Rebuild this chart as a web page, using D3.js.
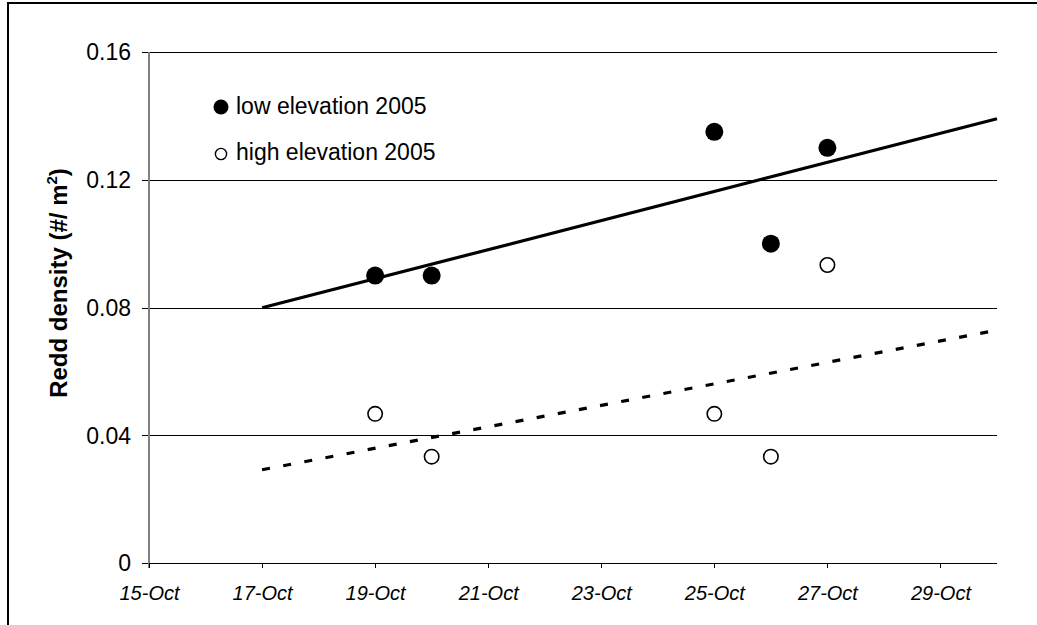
<!DOCTYPE html>
<html>
<head>
<meta charset="utf-8">
<script src="https://cdn.jsdelivr.net/npm/d3@7"></script>
<style>
  html, body { margin: 0; padding: 0; background: #fff; }
  svg { display: block; font-family: "Liberation Sans", Arial, sans-serif; }
</style>
</head>
<body>
<svg id="chart" width="1037" height="625"></svg>
<script>
// Survey dates and redd densities (#/m2)
const surveyDates = ["2005-10-19", "2005-10-20", "2005-10-25", "2005-10-26", "2005-10-27"];
const lowElevation = [0.09, 0.09, 0.135, 0.10, 0.13];
const highElevation = [0.0467, 0.0333, 0.0467, 0.0333, 0.0933];

// Linear trend lines (start / end)
const trendDates = ["2005-10-17", "2005-10-30"];
const lowTrend = [0.0799, 0.1391];
const highTrend = [0.0292, 0.0729];

// Axis ticks
const xTickDates = ["2005-10-15", "2005-10-17", "2005-10-19", "2005-10-21", "2005-10-23", "2005-10-25", "2005-10-27", "2005-10-29"];
const xTickLabels = ["15-Oct", "17-Oct", "19-Oct", "21-Oct", "23-Oct", "25-Oct", "27-Oct", "29-Oct"];
const yTicks = [0, 0.04, 0.08, 0.12, 0.16];
const yTickLabels = ["0", "0.04", "0.08", "0.12", "0.16"];

const seriesNames = ["low elevation 2005", "high elevation 2005"];

const parse = d3.utcParse("%Y-%m-%d");
const svg = d3.select("#chart");

const plotLeft = 149, plotRight = 997, plotTop = 52, plotBottom = 563;

const x = d3.scaleUtc()
  .domain([parse("2005-10-15"), parse("2005-10-30")])
  .range([plotLeft, plotRight]);
const y = d3.scaleLinear().domain([0, 0.16]).range([plotBottom, plotTop]);

// Outer frame
svg.append("rect")
  .attr("x", 8).attr("y", 3)
  .attr("width", 1100).attr("height", 700)
  .attr("fill", "none").attr("stroke", "#000").attr("stroke-width", 2);

// Horizontal gridlines (extend left as tick marks)
svg.append("g")
  .attr("transform", `translate(${plotRight},0)`)
  .call(d3.axisLeft(y).tickValues(yTicks).tickSize(plotRight - plotLeft + 7).tickFormat(""))
  .call(g => g.select(".domain").remove())
  .call(g => g.selectAll("line").attr("stroke", "#000").attr("stroke-width", 1)
    .attr("shape-rendering", "crispEdges"));

// Y tick labels
svg.append("g")
  .selectAll("text")
  .data(yTicks)
  .join("text")
  .attr("x", 131)
  .attr("y", d => y(d))
  .attr("dy", "0.36em")
  .attr("text-anchor", "end")
  .attr("font-size", 23)
  .attr("fill", "#000")
  .text((d, i) => yTickLabels[i]);

// Y axis line
svg.append("line")
  .attr("x1", plotLeft).attr("x2", plotLeft)
  .attr("y1", plotTop).attr("y2", plotBottom + 5)
  .attr("stroke", "#808080").attr("stroke-width", 2);

// X axis with ticks below
const xAxis = svg.append("g")
  .attr("transform", `translate(0,${plotBottom})`)
  .call(d3.axisBottom(x)
    .tickValues(xTickDates.map(parse))
    .tickSize(5)
    .tickFormat((d, i) => xTickLabels[i]));
xAxis.select(".domain").remove();
xAxis.selectAll("line").attr("stroke", "#000").attr("shape-rendering", "crispEdges");
xAxis.selectAll("text")
  .attr("y", 37)
  .attr("dy", 0)
  .attr("font-size", 20)
  .attr("font-style", "italic")
  .attr("font-family", "'Liberation Sans', Arial, sans-serif")
  .attr("fill", "#000");
svg.append("line")
  .attr("x1", plotLeft).attr("x2", plotRight)
  .attr("y1", plotBottom).attr("y2", plotBottom)
  .attr("stroke", "#000").attr("stroke-width", 1)
  .attr("shape-rendering", "crispEdges");

// Y axis title
svg.append("text")
  .attr("transform", "translate(67,283) rotate(-90)")
  .attr("text-anchor", "middle")
  .attr("font-size", 24)
  .attr("font-weight", "bold")
  .attr("fill", "#000")
  .call(t => {
    t.append("tspan").text("Redd density (#/ m");
    t.append("tspan").attr("font-size", 15).attr("dy", -10).text("2");
    t.append("tspan").attr("dy", 10).text(")");
  });

// Trend lines
const line = d3.line().x(d => x(d[0])).y(d => y(d[1]));
const tDates = trendDates.map(parse);
svg.append("path")
  .datum(tDates.map((d, i) => [d, lowTrend[i]]))
  .attr("d", line)
  .attr("fill", "none").attr("stroke", "#000").attr("stroke-width", 3.2);
svg.append("path")
  .datum(tDates.map((d, i) => [d, highTrend[i]]))
  .attr("d", line)
  .attr("fill", "none").attr("stroke", "#000").attr("stroke-width", 3.2)
  .attr("stroke-dasharray", "8,13.5");

// Data points
const sDates = surveyDates.map(parse);
svg.append("g")
  .selectAll("circle")
  .data(sDates.map((d, i) => [d, lowElevation[i]]))
  .join("circle")
  .attr("cx", d => x(d[0])).attr("cy", d => y(d[1]))
  .attr("r", 9).attr("fill", "#000");
svg.append("g")
  .selectAll("circle")
  .data(sDates.map((d, i) => [d, highElevation[i]]))
  .join("circle")
  .attr("cx", d => x(d[0])).attr("cy", d => y(d[1]))
  .attr("r", 7.2).attr("fill", "#fff").attr("stroke", "#000").attr("stroke-width", 1.6);

// Legend
const legend = svg.append("g");
legend.append("circle").attr("cx", 221).attr("cy", 107).attr("r", 7.5).attr("fill", "#000");
legend.append("circle").attr("cx", 221).attr("cy", 154).attr("r", 5.6)
  .attr("fill", "#fff").attr("stroke", "#000").attr("stroke-width", 1.4);
legend.selectAll("text")
  .data(seriesNames)
  .join("text")
  .attr("x", 236)
  .attr("y", (d, i) => 114 + i * 46)
  .attr("font-size", 23)
  .attr("fill", "#000")
  .text(d => d);
</script>
</body>
</html>
